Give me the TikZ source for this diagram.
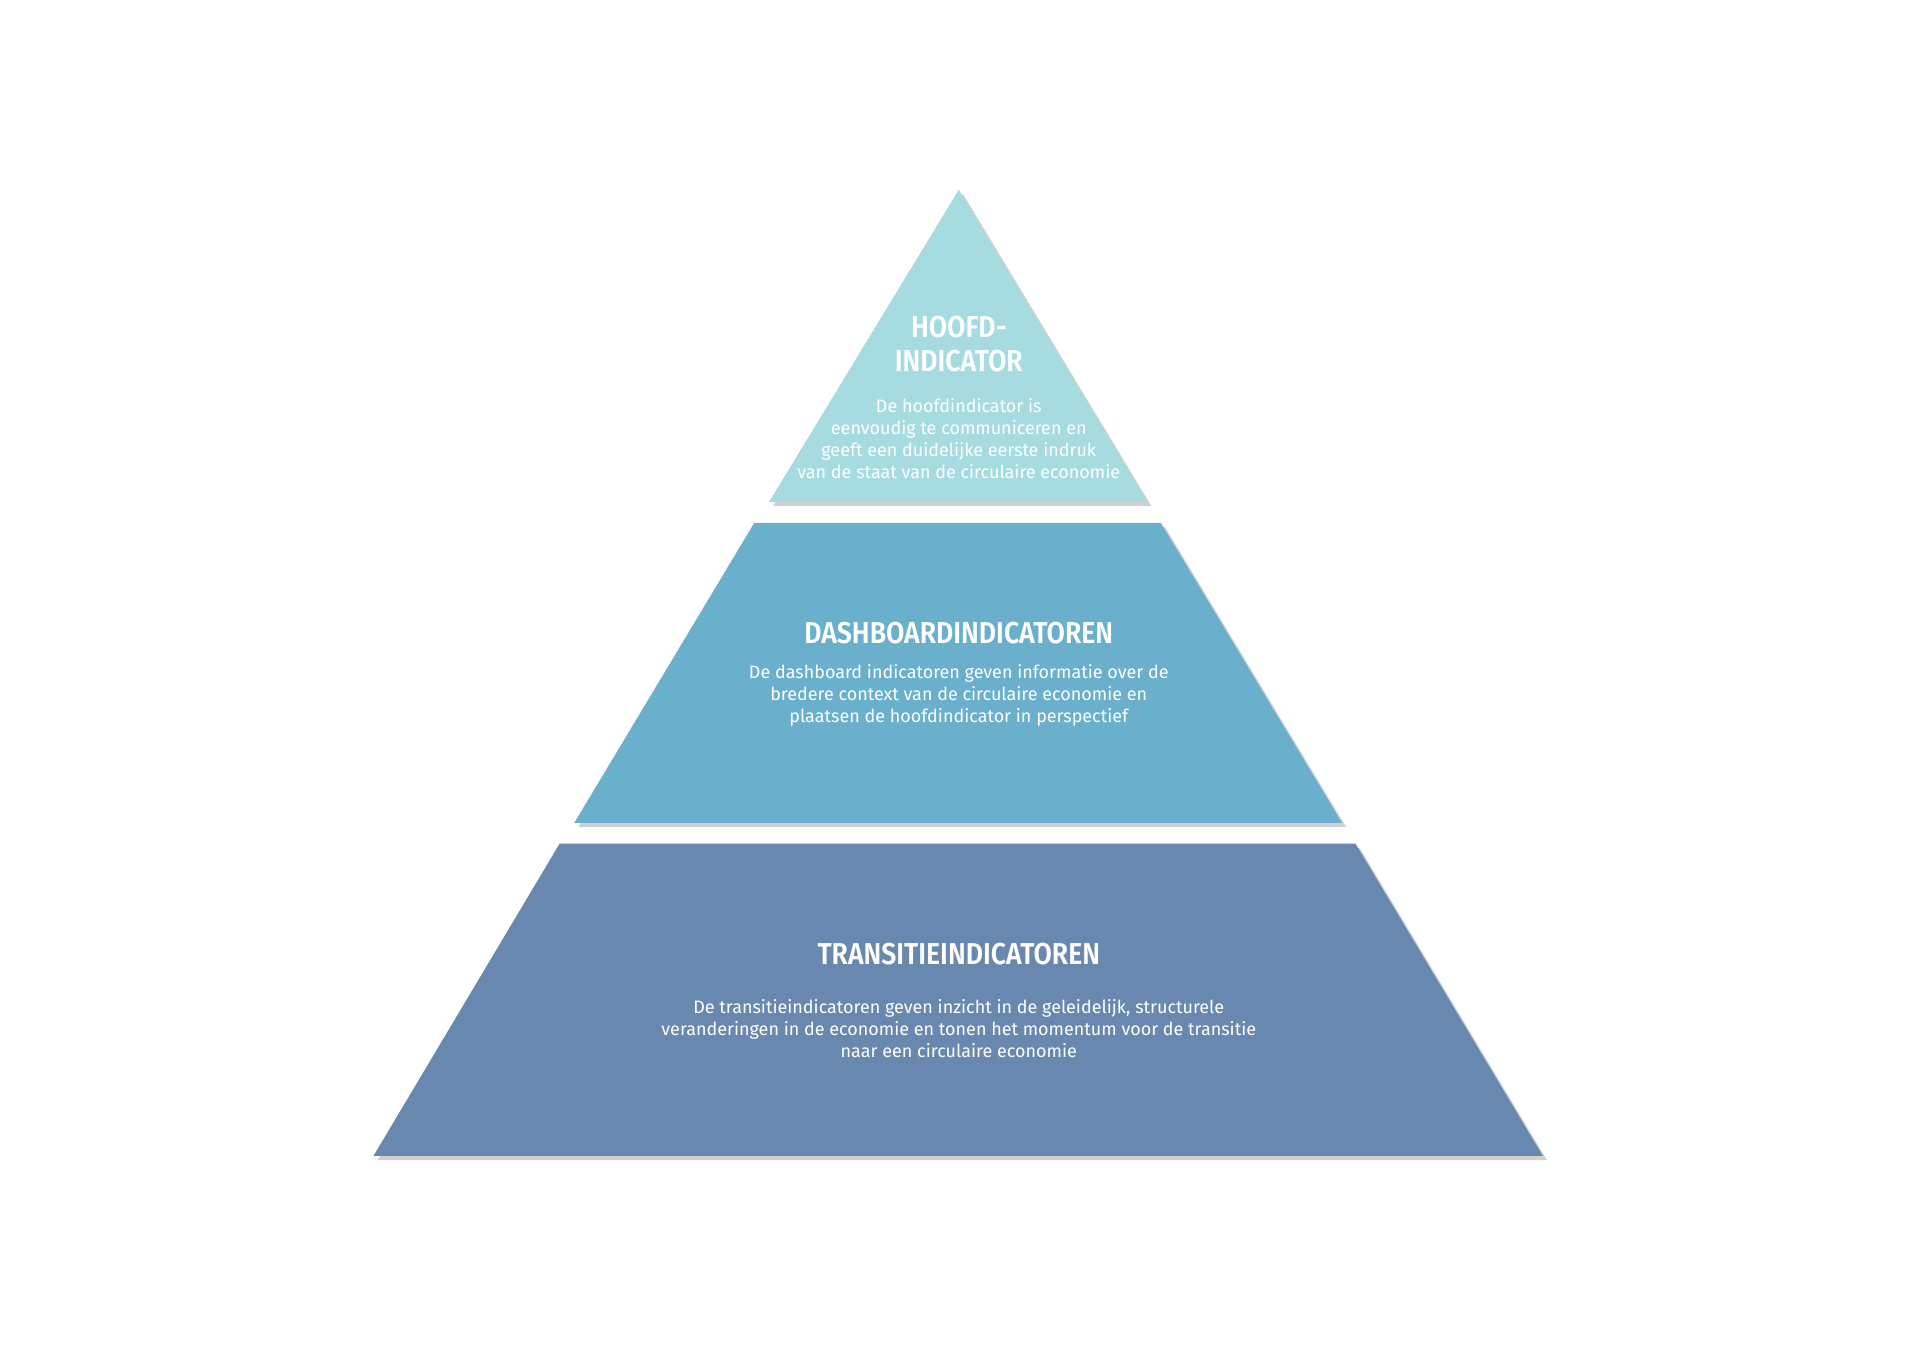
\documentclass[tikz,border=0pt]{standalone}
\usepackage{fontspec}
\setmainfont{Fira Sans}
\newfontfamily\titlefont[FakeStretch=0.88]{Fira Sans SemiBold}
\usetikzlibrary{shadows}
\definecolor{topblue}{HTML}{A6DCDF}
\definecolor{midblue}{HTML}{6AAFCC}
\definecolor{lowblue}{HTML}{6888AF}
\tikzset{
  layer/.style={draw=none, drop shadow={shadow xshift=2.5pt, shadow yshift=-2.5pt, opacity=0.3, fill=black!60}},
  title/.style={text=white, align=center, font=\titlefont\fontsize{18.5}{20.5}\selectfont},
  body/.style={text=white, align=center, font=\fontsize{11}{13.4}\selectfont}
}
\begin{document}
\begin{tikzpicture}[x=0.75pt, y=-0.75pt]
  \useasboundingbox[fill=white] (0,0) rectangle (1568,1108);
  % pyramid layers
  \fill[layer, topblue] (783,155) -- (937,410) -- (628,410) -- cycle;
  \fill[layer, midblue] (616,427) -- (948,427) -- (1096,672) -- (469,672) -- cycle;
  \fill[layer, lowblue] (457,689) -- (1107,689) -- (1260,944) -- (305,944) -- cycle;
  % texts
  \node[title] (hoofd) at (783,281) {HOOFD-\\INDICATOR};
  \node[body] (hoofdtxt) at (783,358) {De hoofdindicator is\\eenvoudig te communiceren en\\geeft een duidelijke eerste indruk\\van de staat van de circulaire economie};
  \node[title] (dash) at (783,517) {DASHBOARDINDICATOREN};
  \node[body] (dashtxt) at (783,568) {De dashboard indicatoren geven informatie over de\\bredere context van de circulaire economie en\\plaatsen de hoofdindicator in perspectief};
  \node[title] (trans) at (783,779) {TRANSITIEINDICATOREN};
  \node[body] (transtxt) at (783,840) {De transitieindicatoren geven inzicht in de geleidelijk, structurele\\veranderingen in de economie en tonen het momentum voor de transitie\\naar een circulaire economie};
\end{tikzpicture}
\end{document}
